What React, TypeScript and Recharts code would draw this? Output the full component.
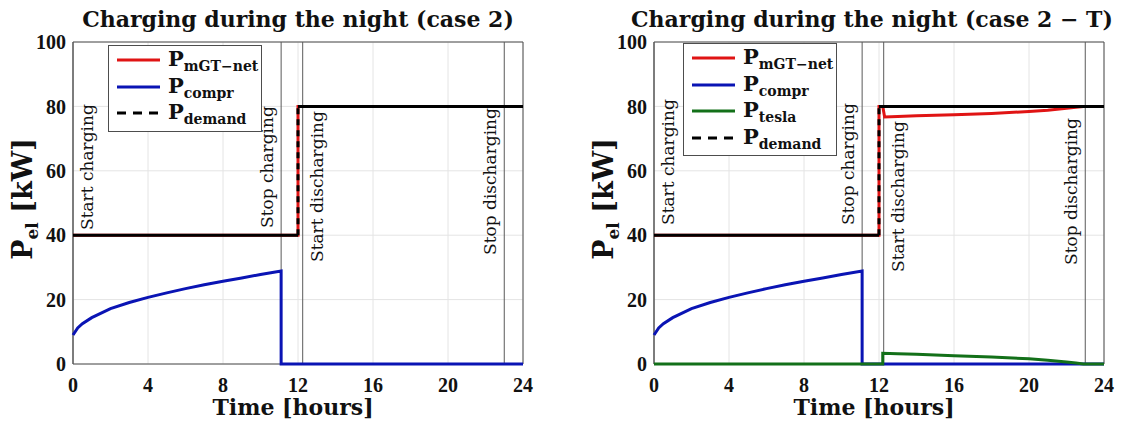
import React from "react";
import {
  LineChart,
  Line,
  XAxis,
  YAxis,
  CartesianGrid,
  ReferenceLine,
  ReferenceArea,
} from "recharts";

// axis ticks
const timeTicks = [0, 4, 8, 12, 16, 20, 24];
const powerTicks = [0, 20, 40, 60, 80, 100];

// storage events (hours)
const eventHours = [0, 11.1, 12.25, 23];
const eventNames = ["Start charging", "Stop charging", "Start discharging", "Stop discharging"];

// electric demand, same in both cases
const demandHours = [0, 12, 12, 24];
const demandKw = [40, 40, 80, 80];

// mGT net output, case 2
const mgtHours = [0, 12, 12, 24];
const mgtKw = [40, 40, 80, 80];

// mGT net output, case 2 - T
const mgtHoursT = [0, 12, 12, 12.2, 12.3, 13, 14, 16, 18, 20, 21, 22, 22.5, 22.9, 24];
const mgtKwT = [40, 40, 80, 80, 76.7, 76.9, 77.1, 77.4, 77.8, 78.4, 78.8, 79.4, 79.7, 80, 80];

// compressor consumption while charging
const comprHours = [0, 0.25, 0.5, 1, 2, 3, 4, 5, 6, 7, 8, 9, 10, 11.1, 11.1, 24];
const comprKw = [9, 11.2, 12.5, 14.4, 17.2, 19.1, 20.7, 22.1, 23.4, 24.6, 25.7, 26.7, 27.8, 28.9, 0, 0];

// tesla battery output
const teslaHours = [0, 12.2, 12.2, 13, 14, 16, 18, 20, 21, 22, 22.5, 22.9, 24];
const teslaKw = [0, 0, 3.3, 3.2, 3.0, 2.6, 2.2, 1.6, 1.2, 0.6, 0.3, 0, 0];

// layout
const H = 427;
const PLOT_LEFT = 73;
const PLOT_TOP = 42;
const PLOT_RIGHT = 523;
const PLOT_BOTTOM = 364;
const Y_AXIS_W = 40;
const X_AXIS_H = 30;

const RED = "#e01414";
const BLUE = "#0a14b4";
const GREEN = "#137019";
const FRAME = "#4d4d4d";
const SERIF = "'DejaVu Serif', serif";
const TICK_FONT = { fill: "#111", fontSize: 20, fontWeight: 700, fontFamily: "'Liberation Serif', serif" };

type Pt = { x: number; y: number | null };

const toPoints = (xs: number[], ys: number[]): Pt[] => xs.map((x, i) => ({ x, y: ys[i] }));

// flat parts of a step signal, broken at the jumps
const flatParts = (xs: number[], ys: number[]): Pt[] => {
  const out: Pt[] = [];
  xs.forEach((x, i) => {
    out.push({ x, y: ys[i] });
    if (i + 1 < xs.length && xs[i + 1] === x && ys[i + 1] !== ys[i]) out.push({ x, y: null });
  });
  return out;
};

// the vertical jumps of a step signal
const jumpParts = (xs: number[], ys: number[]): Pt[][] => {
  const out: Pt[][] = [];
  xs.forEach((x, i) => {
    if (i + 1 < xs.length && xs[i + 1] === x && ys[i + 1] !== ys[i]) {
      out.push([{ x, y: ys[i] }, { x, y: ys[i + 1] }]);
    }
  });
  return out;
};

interface Series {
  name: string;
  sub: string;
  color: string;
  points: Pt[];
}

const eventLabel = (name: string, drop: number) => (props: any) => {
  const vb = props.viewBox || {};
  const side = name.startsWith("Start") ? 1 : -1;
  const cx = vb.x + side * 14;
  const by = vb.y + drop;
  return (
    <text
      x={cx}
      y={by}
      transform={`rotate(-90 ${cx} ${by})`}
      textAnchor="start"
      dominantBaseline="central"
      fontFamily={SERIF}
      fontSize={17}
      fill="#111"
    >
      {name}
    </text>
  );
};

const LegendBox: React.FC<{ items: { sub: string; color: string; dashed?: boolean }[]; left: number; top: number }> = ({
  items,
  left,
  top,
}) => (
  <div
    style={{
      position: "absolute",
      left,
      top,
      width: 152,
      padding: "1px 0 4px 0",
      border: `1px solid ${FRAME}`,
      background: "#fff",
      fontFamily: SERIF,
      fontWeight: 700,
      color: "#111",
    }}
  >
    {items.map((it) => (
      <div key={it.sub} style={{ display: "flex", alignItems: "center", height: 26.5 }}>
        <svg width={50} height={6} style={{ marginLeft: 8 }}>
          <line
            x1={0}
            y1={3}
            x2={43}
            y2={3}
            stroke={it.color}
            strokeWidth={3}
            strokeDasharray={it.dashed ? "9 7" : undefined}
          />
        </svg>
        <span style={{ fontSize: 21, lineHeight: "22px", marginLeft: 1 }}>
          P
          <span style={{ fontSize: 14, position: "relative", top: 5 }}>{it.sub}</span>
        </span>
      </div>
    ))}
  </div>
);

interface ChartProps {
  title: string;
  titleShift: number;
  left: number;
  width: number;
  series: Series[];
  labelDrops: number[];
  legendTop: number;
  legendLeft: number;
}

const PowerChart: React.FC<ChartProps> = ({
  title,
  titleShift,
  left,
  width,
  series,
  labelDrops,
  legendTop,
  legendLeft,
}) => {
  const demandFlat = flatParts(demandHours, demandKw);
  const demandJumps = jumpParts(demandHours, demandKw);
  const plotMid = (PLOT_LEFT + PLOT_RIGHT) / 2;
  const yMid = (PLOT_TOP + PLOT_BOTTOM) / 2 - 4;
  const yLabX = PLOT_LEFT - 41;
  return (
    <div style={{ position: "absolute", left, top: 0, width, height: H }}>
      <LineChart
        width={width}
        height={H}
        margin={{
          top: PLOT_TOP,
          right: width - PLOT_RIGHT,
          bottom: H - PLOT_BOTTOM - X_AXIS_H,
          left: PLOT_LEFT - Y_AXIS_W,
        }}
      >
        <CartesianGrid stroke="#e4e4e4" />
        <XAxis
          dataKey="x"
          type="number"
          domain={[0, 24]}
          ticks={timeTicks}
          height={X_AXIS_H}
          axisLine={false}
          tickLine={false}
          tickSize={0}
          tickMargin={14}
          tick={TICK_FONT}
        />
        <YAxis
          type="number"
          domain={[0, 100]}
          ticks={powerTicks}
          width={Y_AXIS_W}
          axisLine={false}
          tickLine={false}
          tickSize={0}
          tickMargin={7}
          tick={TICK_FONT}
        />
        <ReferenceArea x1={0} x2={24} y1={0} y2={100} fill="none" stroke={FRAME} strokeWidth={1} />
        {eventHours.map((h, i) => (
          <ReferenceLine
            key={eventNames[i]}
            x={h}
            stroke="#5a5a5a"
            strokeWidth={1}
            label={eventLabel(eventNames[i], labelDrops[i])}
          />
        ))}
        {series.map((s) => (
          <Line
            key={s.name}
            data={s.points}
            dataKey="y"
            type="linear"
            stroke={s.color}
            strokeWidth={3}
            dot={false}
            activeDot={false}
            isAnimationActive={false}
          />
        ))}
        <Line
          data={demandFlat}
          dataKey="y"
          type="linear"
          stroke="#000"
          strokeWidth={3}
          dot={false}
          activeDot={false}
          isAnimationActive={false}
        />
        {demandJumps.map((pts, i) => (
          <Line
            key={`jump-${i}`}
            data={pts}
            dataKey="y"
            type="linear"
            stroke="#000"
            strokeWidth={3}
            strokeDasharray="6 5"
            dot={false}
            activeDot={false}
            isAnimationActive={false}
          />
        ))}
      </LineChart>
      <svg width={width} height={H} style={{ position: "absolute", left: 0, top: 0, pointerEvents: "none" }}>
        <text
          x={plotMid + titleShift}
          y={27}
          textAnchor="middle"
          fontFamily={SERIF}
          fontWeight={700}
          fontSize={22}
          fill="#111"
        >
          {title}
        </text>
        <text x={plotMid - 5} y={415} textAnchor="middle" fontFamily={SERIF} fontWeight={700} fontSize={22} fill="#111">
          Time [hours]
        </text>
        <text
          x={yLabX}
          y={yMid}
          transform={`rotate(-90 ${yLabX} ${yMid})`}
          textAnchor="middle"
          fontFamily={SERIF}
          fontWeight={700}
          fill="#111"
        >
          <tspan fontSize={27}>P</tspan>
          <tspan fontSize={17} dy={6}>el</tspan>
          <tspan fontSize={27} dy={-6}>{"\u00a0[kW]"}</tspan>
        </text>
      </svg>
      <LegendBox
        left={legendLeft}
        top={legendTop}
        items={[
          ...series.map((s) => ({ sub: s.sub, color: s.color })),
          { sub: "demand", color: "#000", dashed: true },
        ]}
      />
    </div>
  );
};

export default function App() {
  const compr: Series = { name: "compr", sub: "compr", color: BLUE, points: toPoints(comprHours, comprKw) };
  const case2: Series[] = [
    { name: "mgt", sub: "mGT\u2212net", color: RED, points: toPoints(mgtHours, mgtKw) },
    compr,
  ];
  const case2T: Series[] = [
    { name: "mgt", sub: "mGT\u2212net", color: RED, points: toPoints(mgtHoursT, mgtKwT) },
    compr,
    { name: "tesla", sub: "tesla", color: GREEN, points: toPoints(teslaHours, teslaKw) },
  ];
  return (
    <div
      style={{
        position: "absolute",
        left: 0,
        top: 0,
        width: 1121,
        height: H,
        background: "#fff",
        overflow: "hidden",
      }}
    >
      <PowerChart
        title="Charging during the night (case 2)"
        titleShift={0}
        left={0}
        width={560}
        series={case2}
        labelDrops={[188, 186, 220, 213]}
        legendLeft={108}
        legendTop={45}
      />
      <PowerChart
        title={"Charging during the night (case 2 \u2212 T)"}
        titleShift={-7}
        left={581}
        width={540}
        series={case2T}
        labelDrops={[183, 183, 230, 223]}
        legendLeft={683 - 581}
        legendTop={43}
      />
    </div>
  );
}
